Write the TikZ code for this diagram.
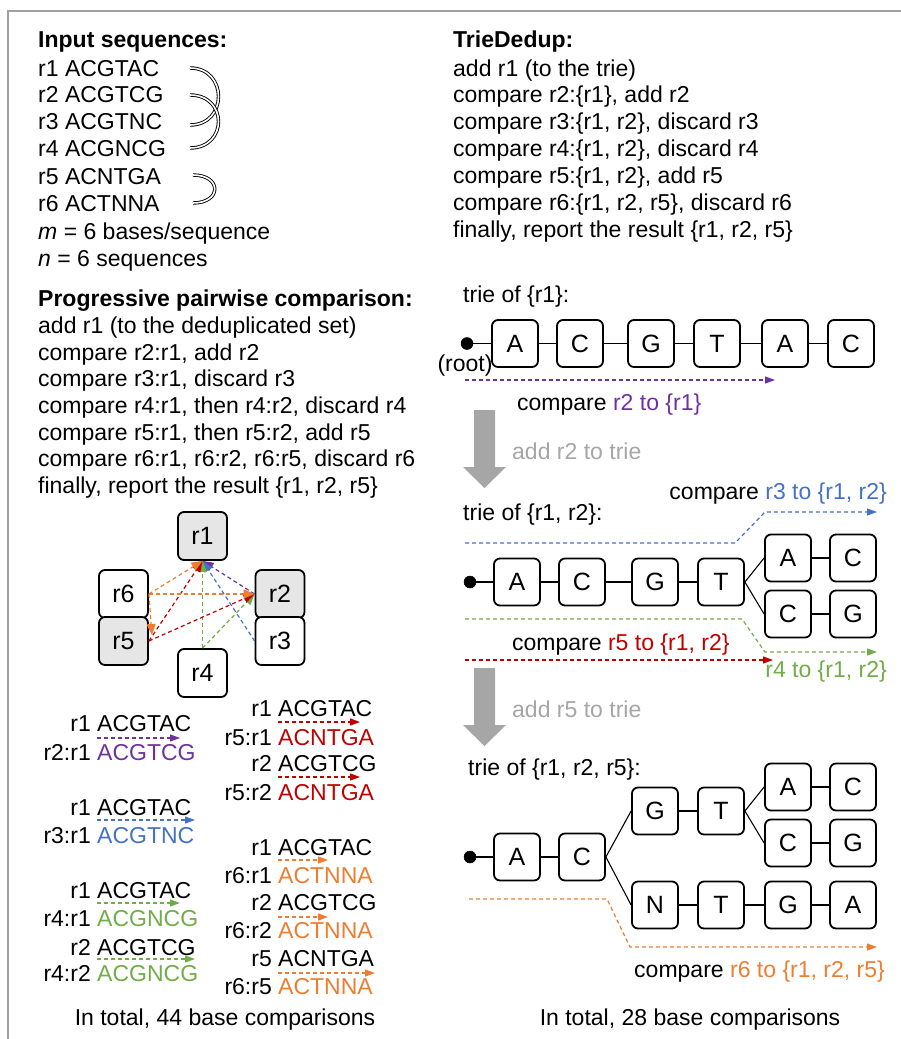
\documentclass[tikz,border=0pt]{standalone}
\usepackage{fontspec}
\setmainfont{Liberation Sans}
\usetikzlibrary{arrows.meta}
\definecolor{cpur}{HTML}{7030A0}
\definecolor{cblu}{HTML}{4472C4}
\definecolor{cgrn}{HTML}{70AD47}
\definecolor{cred}{HTML}{C00000}
\definecolor{corg}{HTML}{ED7D31}
\definecolor{cgray}{HTML}{A6A6A6}
\definecolor{boxgray}{HTML}{E6E6E6}
\definecolor{framegray}{HTML}{A0A0A0}
\newcommand\fs{\fontsize{23}{27}\selectfont}
\newcommand\fb{\fontsize{25}{29}\selectfont}
\begin{document}
\begin{tikzpicture}[x=1pt,y=-1pt,
  txt/.style={anchor=base west,inner sep=0pt,font=\fs},
  txte/.style={anchor=base east,inner sep=0pt,font=\fs},
  tbox/.style={draw,rounded corners=6pt,line width=1.8pt,minimum width=46pt,minimum height=47pt,inner sep=0pt,font=\fb},
  gbox/.style={draw,rounded corners=6pt,line width=1.8pt,minimum width=49pt,minimum height=48pt,inner sep=0pt,font=\fb,fill=white},
  fbox/.style={gbox,fill=boxgray},
  tedge/.style={line width=1.1pt},
  dline/.style={dash pattern=on 4pt off 3pt,line width=1.2pt},
  dar/.style={dline,-{Triangle[length=10pt,width=7pt]}},
  gar/.style={dline,-{Triangle[length=11pt,width=9pt]}},
  rootdot/.style={circle,fill,draw,line width=0.5pt,inner sep=0pt,minimum size=12pt},
  darc/.style={double,double distance=1.6pt,line width=0.9pt},
  bigarrow/.style={fill=cgray,draw=none},
]
\useasboundingbox (0,0) rectangle (901,1039);
\draw[framegray,line width=2pt] (8,1039) -- (8,11) -- (901,11);

% ---------- Input sequences ----------
\node[txt] (hin) at (38,47) {\textbf{Input sequences:}};
\node[txt] (s1) at (38,76) {r1 ACGTAC};
\node[txt] (s2) at (38,102) {r2 ACGTCG};
\node[txt] (s3) at (38,129) {r3 ACGTNC};
\node[txt] (s4) at (38,156) {r4 ACGNCG};
\node[txt] (s5) at (38,184) {r5 ACNTGA};
\node[txt] (s6) at (38,211) {r6 ACTNNA};
\node[txt] (mm) at (38,239) {\textit{m} = 6 bases/sequence};
\node[txt] (nn) at (38,266) {\textit{n} = 6 sequences};
\coordinate (a1) at (190,68);
\coordinate (a3) at (190,125);
\coordinate (a2) at (190,95);
\coordinate (a4) at (190,148);
\coordinate (a5) at (193,175);
\coordinate (a6) at (193,203);
\draw[darc] (a1) .. controls (228,68) and (228,125) .. (a3);
\draw[darc] (a2) .. controls (228,95) and (228,148) .. (a4);
\draw[darc] (a5) .. controls (222,175) and (222,203) .. (a6);

% ---------- Progressive ----------
\node[txt] (hp) at (38,306) {\textbf{Progressive pairwise comparison:}};
\node[txt] (p1) at (38,333) {add r1 (to the deduplicated set)};
\node[txt] (p2) at (38,360) {compare r2:r1, add r2};
\node[txt] (p3) at (38,386) {compare r3:r1, discard r3};
\node[txt] (p4) at (38,413) {compare r4:r1, then r4:r2, discard r4};
\node[txt] (p5) at (38,440) {compare r5:r1, then r5:r2, add r5};
\node[txt] (p6) at (38,466) {compare r6:r1, r6:r2, r6:r5, discard r6};
\node[txt] (p7) at (38,493) {finally, report the result \{r1, r2, r5\}};

% graph
\node[fbox] (r1) at (202.5,536) {r1};
\node[gbox] (r6) at (123.5,594) {r6};
\node[fbox] (r5) at (123.5,641) {r5};
\node[fbox] (r2) at (280,594) {r2};
\node[gbox] (r3) at (280,641) {r3};
\node[gbox] (r4) at (202.5,673) {r4};
\draw[gar,cpur] (r2.west) -- (r1.south);
\draw[gar,cblu] (r3.west) -- (r1.south);
\draw[gar,cgrn] (r4.north) -- (r1.south);
\draw[gar,cgrn] (r4.north) -- (r2.west);
\draw[gar,cred] (r5.east) -- (r1.south);
\draw[gar,cred] (r5.east) -- (r2.west);
\draw[gar,corg] (r6.east) -- (r1.south);
\draw[gar,corg] (r6.east) -- (r2.west);
\draw[gar,corg] (r6.east) -- ([xshift=3pt,yshift=6pt]r5.east);

% pairwise details, left
\node[txte] (l1a) at (91,731) {r1};
\node[txt] (q1a) at (97,731) {ACGTAC};
\node[txte] (l1b) at (91,760) {r2:r1};
\node[txt,cpur] (q1b) at (97,760) {ACGTCG};
\coordinate (d1s) at (97,738); \coordinate (d1e) at (180,738);
\draw[dar,cpur] (d1s) -- (d1e);

\node[txte] (l2a) at (91,815) {r1};
\node[txt] (q2a) at (97,815) {ACGTAC};
\node[txte] (l2b) at (91,843) {r3:r1};
\node[txt,cblu] (q2b) at (97,843) {ACGTNC};
\coordinate (d2s) at (97,820); \coordinate (d2e) at (195,820);
\draw[dar,cblu] (d2s) -- (d2e);

\node[txte] (l3a) at (91,898) {r1};
\node[txt] (q3a) at (97,898) {ACGTAC};
\node[txte] (l3b) at (91,926) {r4:r1};
\node[txt,cgrn] (q3b) at (97,926) {ACGNCG};
\coordinate (d3s) at (97,903); \coordinate (d3e) at (180,903);
\draw[dar,cgrn] (d3s) -- (d3e);
\node[txte] (l4a) at (91,955) {r2};
\node[txt] (q4a) at (97,955) {ACGTCG};
\node[txte] (l4b) at (91,981) {r4:r2};
\node[txt,cgrn] (q4b) at (97,981) {ACGNCG};
\coordinate (d4s) at (97,959); \coordinate (d4e) at (195,959);
\draw[dar,cgrn] (d4s) -- (d4e);

% pairwise details, right
\node[txte] (l5a) at (272,716) {r1};
\node[txt] (q5a) at (278,716) {ACGTAC};
\node[txte] (l5b) at (272,745) {r5:r1};
\node[txt,cred] (q5b) at (278,745) {ACNTGA};
\coordinate (d5s) at (278,722); \coordinate (d5e) at (360,722);
\draw[dar,cred] (d5s) -- (d5e);
\node[txte] (l6a) at (272,771) {r2};
\node[txt] (q6a) at (278,771) {ACGTCG};
\node[txte] (l6b) at (272,800) {r5:r2};
\node[txt,cred] (q6b) at (278,800) {ACNTGA};
\coordinate (d6s) at (278,777); \coordinate (d6e) at (360,777);
\draw[dar,cred] (d6s) -- (d6e);

\node[txte] (l7a) at (272,855) {r1};
\node[txt] (q7a) at (278,855) {ACGTAC};
\node[txte] (l7b) at (272,883) {r6:r1};
\node[txt,corg] (q7b) at (278,883) {ACTNNA};
\coordinate (d7s) at (278,860); \coordinate (d7e) at (328,860);
\draw[dar,corg] (d7s) -- (d7e);
\node[txte] (l8a) at (272,910) {r2};
\node[txt] (q8a) at (278,910) {ACGTCG};
\node[txte] (l8b) at (272,938) {r6:r2};
\node[txt,corg] (q8b) at (278,938) {ACTNNA};
\coordinate (d8s) at (278,917); \coordinate (d8e) at (328,917);
\draw[dar,corg] (d8s) -- (d8e);
\node[txte] (l9a) at (272,966) {r5};
\node[txt] (q9a) at (278,966) {ACNTGA};
\node[txte] (l9b) at (272,994) {r6:r5};
\node[txt,corg] (q9b) at (278,994) {ACTNNA};
\coordinate (d9s) at (278,973); \coordinate (d9e) at (375,973);
\draw[dar,corg] (d9s) -- (d9e);

\node[anchor=base,inner sep=0pt,font=\fs] (tot1) at (225,1025) {In total, 44 base comparisons};

% ---------- TrieDedup ----------
\node[txt] (ht) at (453,47) {\textbf{TrieDedup:}};
\node[txt] (t1) at (453,76) {add r1 (to the trie)};
\node[txt] (t2) at (453,102) {compare r2:\{r1\}, add r2};
\node[txt] (t3) at (453,129) {compare r3:\{r1, r2\}, discard r3};
\node[txt] (t4) at (453,156) {compare r4:\{r1, r2\}, discard r4};
\node[txt] (t5) at (453,183) {compare r5:\{r1, r2\}, add r5};
\node[txt] (t6) at (453,210) {compare r6:\{r1, r2, r5\}, discard r6};
\node[txt] (t7) at (453,237) {finally, report the result \{r1, r2, r5\}};

% trie 1
\node[txt] (tr1) at (463,302) {trie of \{r1\}:};
\node[rootdot] (x0) at (467,343.5) {};
\node[anchor=base,inner sep=0pt,font=\fs] (rootlab) at (465,371) {(root)};
\node[tbox] (x1) at (515,343.5) {A};
\node[tbox] (x2) at (580,343.5) {C};
\node[tbox] (x3) at (651,343.5) {G};
\node[tbox] (x4) at (717,343.5) {T};
\node[tbox] (x5) at (785,343.5) {A};
\node[tbox] (x6) at (851,343.5) {C};
\draw[tedge] (x0) -- (x1) -- (x2) -- (x3) -- (x4) -- (x5) -- (x6);
\coordinate (e1s) at (465,380); \coordinate (e1e) at (775,380);
\draw[dar,cpur] (e1s) -- (e1e);
\node[txt] (c1) at (517,410) {compare \textcolor{cpur}{r2 to \{r1\}}};

% gray arrow 1
\fill[bigarrow] (474,410) -- (495,410) -- (495,467) -- (506,467) -- (484.5,488) -- (463,467) -- (474,467) -- cycle;
\node[txt,cgray] (g1) at (512,459) {add r2 to trie};

% trie 2
\node[txt] (tr2) at (463,520) {trie of \{r1, r2\}:};
\node[rootdot] (y0) at (470,582) {};
\node[tbox] (y1) at (517,582) {A};
\node[tbox] (y2) at (582,582) {C};
\node[tbox] (y3) at (655,582) {G};
\node[tbox] (y4) at (721,582) {T};
\node[tbox] (y5) at (788,558) {A};
\node[tbox] (y6) at (853,558) {C};
\node[tbox] (y7) at (788,614) {C};
\node[tbox] (y8) at (853,614) {G};
\draw[tedge] (y0) -- (y1) -- (y2) -- (y3) -- (y4);
\draw[tedge] (y4.east) -- (y5.west);
\draw[tedge] (y4.east) -- (y7.west);
\draw[tedge] (y5) -- (y6);
\draw[tedge] (y7) -- (y8);
\coordinate (e2s) at (465,543); \coordinate (e2a) at (735,543); \coordinate (e2b) at (765,512); \coordinate (e2e) at (877,512);
\draw[dar,cblu] (e2s) -- (e2a) -- (e2b) -- (e2e);
\node[txte] (c2) at (887,499) {compare \textcolor{cblu}{r3 to \{r1, r2\}}};
\coordinate (e3s) at (465,619); \coordinate (e3a) at (742,619); \coordinate (e3b) at (765,652); \coordinate (e3e) at (877,652);
\draw[dar,cgrn] (e3s) -- (e3a) -- (e3b) -- (e3e);
\node[txte,cgrn] (c3) at (887,677) {r4 to \{r1, r2\}};
\coordinate (e4s) at (465,660); \coordinate (e4e) at (773,660);
\draw[dar,cred] (e4s) -- (e4e);
\node[txt] (c4) at (512,650) {compare \textcolor{cred}{r5 to \{r1, r2\}}};

% gray arrow 2
\fill[bigarrow] (474,668) -- (495,668) -- (495,725) -- (506,725) -- (484.5,746) -- (463,725) -- (474,725) -- cycle;
\node[txt,cgray] (g2) at (512,717) {add r5 to trie};

% trie 3
\node[txt] (tr3) at (468,775) {trie of \{r1, r2, r5\}:};
\node[rootdot] (z0) at (470,857) {};
\node[tbox] (z1) at (517,857) {A};
\node[tbox] (z2) at (582,857) {C};
\node[tbox] (z3) at (655,811) {G};
\node[tbox] (z4) at (721,811) {T};
\node[tbox] (z5) at (788,787) {A};
\node[tbox] (z6) at (853,787) {C};
\node[tbox] (z7) at (788,843) {C};
\node[tbox] (z8) at (853,843) {G};
\node[tbox] (z9) at (655,905) {N};
\node[tbox] (z10) at (721,905) {T};
\node[tbox] (z11) at (788,905) {G};
\node[tbox] (z12) at (853,905) {A};
\draw[tedge] (z0) -- (z1) -- (z2);
\draw[tedge] (z2.east) -- (z3.west);
\draw[tedge] (z2.east) -- (z9.west);
\draw[tedge] (z3) -- (z4);
\draw[tedge] (z4.east) -- (z5.west);
\draw[tedge] (z4.east) -- (z7.west);
\draw[tedge] (z5) -- (z6);
\draw[tedge] (z7) -- (z8);
\draw[tedge] (z9) -- (z10) -- (z11) -- (z12);
\coordinate (e5s) at (469,899); \coordinate (e5a) at (607,899); \coordinate (e5b) at (630,947); \coordinate (e5e) at (877,947);
\draw[dar,corg] (e5s) -- (e5a) -- (e5b) -- (e5e);
\node[txte] (c5) at (885,977) {compare \textcolor{corg}{r6 to \{r1, r2, r5\}}};

\node[anchor=base,inner sep=0pt,font=\fs] (tot2) at (690,1025) {In total, 28 base comparisons};
\end{tikzpicture}
\end{document}
